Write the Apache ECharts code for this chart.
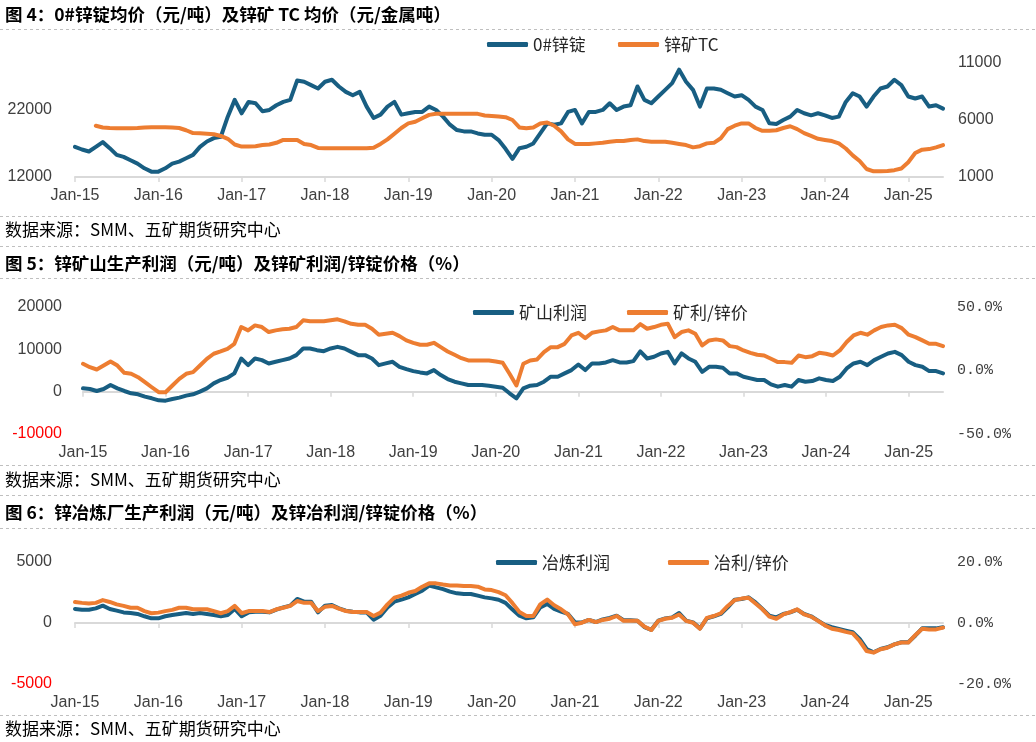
<!DOCTYPE html>
<html><head><meta charset="utf-8">
<script src="https://cdn.jsdelivr.net/npm/echarts@6/dist/echarts.min.js"></script>
<style>html,body{margin:0;padding:0;background:#fff}#c{width:1036px;height:742px}</style>
</head><body><div id="c"></div>
<script>
// Monthly categories Jan-2015 .. Jun-2025
const categories = [];
for (let y = 2015; y <= 2025; y++) {
  for (let m = 1; m <= 12; m++) {
    if (y === 2025 && m > 6) break;
    categories.push(y + '-' + String(m).padStart(2, '0'));
  }
}

// Panel 4: 0# zinc ingot price (yuan/t) and zinc ore TC (yuan/metal t)
const zincPrice = [16500,16100,15800,16500,17200,16300,15300,15000,14500,14000,13300,12800,
 12800,13300,14000,14300,14800,15300,16500,17300,17800,18000,21000,23500,
 21500,23200,23000,21800,22000,22700,23200,23500,26400,26200,25700,25200,
 26200,26500,25500,24700,24200,24700,22500,20800,21300,22500,23200,21300,
 21500,21700,21700,22500,22000,21000,19800,19000,18800,18800,18500,18300,
 18300,17500,16200,14700,16300,16500,17000,18500,20000,19800,20000,21700,
 22000,20000,21700,21700,22000,23000,22000,22500,22700,25500,23500,23000,
 24000,25000,26000,28000,26200,25000,22500,25200,25200,25000,24500,24000,
 24200,23500,22500,22000,20000,19900,20500,21000,22000,21500,21200,21500,
 21200,20800,21000,23200,24500,24000,22500,24000,25200,25500,26500,25700,
 24000,23700,24000,22500,22700,22200];
const zincTC = [null,null,null,5490,5340,5300,5280,5280,5280,5300,5340,5370,
 5370,5370,5340,5300,5100,4850,4840,4800,4750,4600,4350,3850,
 3670,3670,3700,3800,3850,4000,4250,4250,4250,3900,3800,3550,
 3520,3520,3520,3520,3520,3520,3520,3560,3900,4300,4800,5300,
 5700,5850,6150,6450,6540,6540,6540,6540,6540,6540,6540,6400,
 6350,6300,6250,6000,5350,5280,5350,5700,5780,5500,5000,4300,
 3900,3900,3900,3950,4000,4100,4150,4150,4250,4300,4150,4100,
 4100,4100,4000,3900,3800,3600,3700,3950,4000,4400,5200,5500,
 5700,5700,5300,5050,5050,5100,5300,5450,5200,4850,4600,4350,
 4250,4150,3950,3500,2900,2400,1700,1500,1500,1520,1600,1750,
 2300,3100,3400,3450,3600,3800];

// Panel 5: mine profit (yuan/t) and mine profit / zinc price (%)
const mineProfit = [780,630,160,630,1570,780,160,-390,-630,-1180,-1570,-2040,
 -2120,-1730,-1410,-940,-630,0,780,1960,2750,3290,4310,7840,
 6270,7840,7450,6670,7060,7450,7840,8630,10200,10200,9800,9570,
 10200,10590,10200,9410,8630,8630,7840,6270,6670,7060,5880,5330,
 4860,4550,4310,5100,3920,2980,2350,1960,1570,1570,1570,1410,
 1180,940,-390,-1570,780,1410,1570,2350,3530,3530,4310,5100,
 6430,5100,6670,6670,6900,7450,6900,6900,7220,9500,7840,8240,
 9020,9410,6670,9020,7840,7060,4700,5880,5880,5650,4310,4310,
 3530,3140,2750,2750,1730,1180,1570,1180,2750,2350,2510,3140,
 2750,2510,3530,5490,6670,7060,6270,7450,8240,9020,9410,8630,
 7060,6270,5880,4860,4860,4310];
const mineRatio = [5.3,2.6,0.8,3.9,7.1,3.9,-1.8,-2.6,-5.3,-9.2,-13.2,-17.1,
 -17.1,-11.8,-6.6,-2.6,-1.3,3.9,9.2,13.2,15.0,17.1,21.0,34.2,
 31.6,35.5,34.2,30.3,31.6,32.4,32.9,34.2,39.5,38.7,38.7,38.7,
 39.5,40.3,38.7,36.8,36.0,36.0,32.9,28.2,28.9,29.7,27.1,23.7,
 21.8,20.3,20.3,21.8,18.4,15.0,12.4,9.7,7.9,7.9,7.9,7.9,
 7.1,6.1,-2.6,-11.8,5.3,7.9,8.7,14.5,18.4,18.4,21.0,27.6,
 29.7,25.5,29.7,30.8,31.6,34.2,31.6,31.6,31.6,36.5,32.9,34.2,
 36.0,36.8,26.3,30.3,31.6,28.9,19.7,23.7,24.5,23.7,19.2,18.4,
 15.8,13.9,12.4,11.8,9.2,6.6,6.6,6.1,11.8,10.5,11.3,13.9,
 13.2,11.8,15.8,22.4,27.6,29.7,28.2,31.6,34.2,35.5,36.0,33.4,
 28.2,26.3,23.7,21.0,21.0,19.2];

// Panel 6: smelter profit (yuan/t) and smelter profit / zinc price (%)
const smeltProfit = [1150,1090,1090,1200,1420,1150,1010,870,820,740,550,380,
 380,550,660,740,820,740,820,740,660,550,660,1150,
 550,870,930,930,870,1090,1280,1420,1970,1750,1750,870,
 1420,1470,1200,1010,930,870,870,270,600,1280,1750,1910,
 2100,2380,2650,3060,2920,2780,2570,2430,2380,2380,2240,2100,
 2020,1910,1650,1100,600,380,460,1280,1560,1150,930,740,
 50,50,250,80,300,420,600,230,230,190,-330,-560,
 190,380,460,820,190,50,-440,380,550,740,1280,1910,
 1970,2100,1690,1150,600,460,740,870,1090,740,550,190,
 -160,-350,-490,-630,-760,-1310,-2130,-2400,-2130,-1990,-1750,-1580,
 -1580,-1040,-440,-440,-440,-350];
const smeltRatio = [6.9,6.6,6.4,6.6,7.5,6.9,6.1,5.6,5.0,5.0,3.9,3.2,
 3.4,3.9,4.3,5.0,5.0,4.5,4.5,4.5,3.9,3.2,3.9,5.6,
 3.2,3.9,3.9,3.9,3.6,4.5,5.0,5.6,7.2,6.6,6.6,3.9,
 5.3,5.6,4.7,3.9,3.6,3.6,3.6,2.3,3.4,6.1,8.3,9.0,
 9.9,10.5,11.9,13.0,13.0,12.6,12.3,12.3,12.1,12.1,11.9,11.0,
 10.8,10.1,9.1,6.5,3.6,2.3,2.3,6.1,7.7,5.8,4.5,2.8,
 -0.4,0.1,1.0,0.3,1.0,1.4,2.3,0.7,0.7,0.7,-1.2,-2.3,
 0.7,1.4,1.7,2.8,0.7,0.1,-1.9,1.7,2.3,3.2,5.6,7.5,
 8.0,8.3,6.4,4.5,2.1,1.4,2.8,3.6,4.5,2.8,2.1,0.7,
 -0.8,-1.9,-2.3,-2.9,-3.4,-5.9,-9.2,-9.7,-8.6,-8.1,-7.0,-6.4,
 -6.4,-4.0,-1.9,-2.1,-2.1,-1.5];

const titles = ['图 4：0#锌锭均价（元/吨）及锌矿 TC 均价（元/金属吨）',
                '图 5：锌矿山生产利润（元/吨）及锌矿利润/锌锭价格（%）',
                '图 6：锌冶炼厂生产利润（元/吨）及锌冶利润/锌锭价格（%）'];
const sourceText = '数据来源：SMM、五矿期货研究中心';
const seriesNames = ['0#锌锭', '锌矿TC', '矿山利润', '矿利/锌价', '冶炼利润', '冶利/锌价'];

const BLUE = '#185E82', ORANGE = '#ED7D31';
const LABEL_FONT = 'Liberation Sans, Arial, sans-serif';
const MONO_FONT = 'Liberation Mono, DejaVu Sans Mono, monospace';
const CJK = 'Noto Sans CJK SC, sans-serif';
const isJan = (i, v) => String(v).endsWith('-01');
const fmtJan = v => 'Jan-' + String(v).slice(2, 4);
const axisLineStyle = { color: '#d9d9d9', width: 2 };

function xAxisLine(grid, onZeroIdx, showLabel) {
  return {
    type: 'category', gridIndex: grid, data: categories, boundaryGap: false, position: 'bottom',
    axisLine: { show: true, onZero: onZeroIdx != null, onZeroAxisIndex: onZeroIdx == null ? undefined : onZeroIdx, lineStyle: axisLineStyle },
    axisTick: { show: true, interval: isJan, length: 5, lineStyle: { color: '#d9d9d9', width: 1.5 } },
    axisLabel: { show: !!showLabel, interval: isJan, formatter: fmtJan, margin: 11, color: '#404040', fontFamily: LABEL_FONT, fontSize: 16 },
    splitLine: { show: false }
  };
}
function xAxisLabels(grid) {
  return {
    type: 'category', gridIndex: grid, data: categories, boundaryGap: false, position: 'bottom',
    axisLine: { show: false, onZero: false }, axisTick: { show: false },
    axisLabel: { show: true, interval: isJan, formatter: fmtJan, margin: 11, color: '#404040', fontFamily: LABEL_FONT, fontSize: 16 },
    splitLine: { show: false }
  };
}
function yAxis(grid, pos, min, max, interval, label) {
  return {
    type: 'value', gridIndex: grid, position: pos, min: min, max: max, interval: interval,
    splitLine: { show: false }, axisLine: { show: false }, axisTick: { show: false },
    axisLabel: Object.assign({ color: '#404040', fontFamily: LABEL_FONT, fontSize: 16, formatter: v => String(v) }, label)
  };
}
const redNeg = {
  formatter: v => v < 0 ? '{r|' + v + '}' : String(v),
  rich: { r: { color: '#ff0000', fontFamily: LABEL_FONT, fontSize: 16 } }
};
const pct = { formatter: v => v.toFixed(1) + '%', fontFamily: MONO_FONT, fontSize: 15, margin: 14 };

function line(name, xi, yi, data, color) {
  return {
    name: name, type: 'line', xAxisIndex: xi, yAxisIndex: yi, data: data,
    showSymbol: false, symbol: 'none', connectNulls: false,
    lineStyle: { width: 4, color: color, cap: 'round', join: 'round' },
    itemStyle: { color: color }, emphasis: { disabled: true }
  };
}
function legend(name, left, top) {
  return {
    data: [name], left: left, top: top, itemWidth: 41, itemHeight: 5, icon: 'roundRect',
    selectedMode: false, padding: 0,
    textStyle: { fontFamily: CJK, fontSize: 17, color: '#262626' }
  };
}

const dashedYs = [29.5, 216.5, 246.5, 278.5, 465.5, 495.5, 528.5, 715.5];
const graphics = [];
dashedYs.forEach(y => graphics.push({
  type: 'line', silent: true, shape: { x1: 0, y1: y, x2: 1036, y2: y },
  style: { stroke: '#bfbfbf', lineWidth: 1, lineDash: [3, 3] }
}));
[14, 263, 512].forEach((y, i) => graphics.push({
  type: 'text', x: 5, y: y, silent: true,
  style: { text: titles[i], fill: '#000', font: 'bold 17.5px ' + CJK, verticalAlign: 'middle', textVerticalAlign: 'middle' }
}));
[230, 480, 729].forEach(y => graphics.push({
  type: 'text', x: 5, y: y, silent: true,
  style: { text: sourceText, fill: '#000', font: '17px ' + CJK, verticalAlign: 'middle', textVerticalAlign: 'middle' }
}));

const option = {
  animation: false,
  backgroundColor: '#fff',
  grid: [
    { left: 75, right: 93, top: 63, height: 114, containLabel: false, outerBoundsMode: 'none' },
    { left: 83, right: 93, top: 307, height: 127, containLabel: false, outerBoundsMode: 'none' },
    { left: 75, right: 93, top: 562, height: 122, containLabel: false, outerBoundsMode: 'none' }
  ],
  xAxis: [
    xAxisLine(0, null, true),
    xAxisLine(1, 2, false),
    xAxisLabels(1),
    xAxisLine(2, 4, false),
    xAxisLabels(2)
  ],
  yAxis: [
    yAxis(0, 'left', 12000, 29000, 10000, { showMaxLabel: false, margin: 23 }),
    yAxis(0, 'right', 1000, 11000, 5000, { margin: 15 }),
    yAxis(1, 'left', -10000, 20000, 10000, Object.assign({ margin: 21 }, redNeg)),
    yAxis(1, 'right', -50, 50, 50, pct),
    yAxis(2, 'left', -5000, 5000, 5000, Object.assign({ margin: 23 }, redNeg)),
    yAxis(2, 'right', -20, 20, 20, pct)
  ],
  legend: [
    legend(seriesNames[0], 487, 36),
    legend(seriesNames[1], 618, 36),
    legend(seriesNames[2], 473, 304),
    legend(seriesNames[3], 627, 304),
    legend(seriesNames[4], 496, 554),
    legend(seriesNames[5], 668, 554)
  ],
  series: [
    line(seriesNames[0], 0, 0, zincPrice, BLUE),
    line(seriesNames[1], 0, 1, zincTC, ORANGE),
    line(seriesNames[2], 1, 2, mineProfit, BLUE),
    line(seriesNames[3], 1, 3, mineRatio, ORANGE),
    line(seriesNames[4], 3, 4, smeltProfit, BLUE),
    line(seriesNames[5], 3, 5, smeltRatio, ORANGE)
  ],
  graphic: graphics
};

const chart = echarts.init(document.getElementById('c'), null, { renderer: 'canvas', width: 1036, height: 742 });
chart.setOption(option);
</script>
</body></html>
